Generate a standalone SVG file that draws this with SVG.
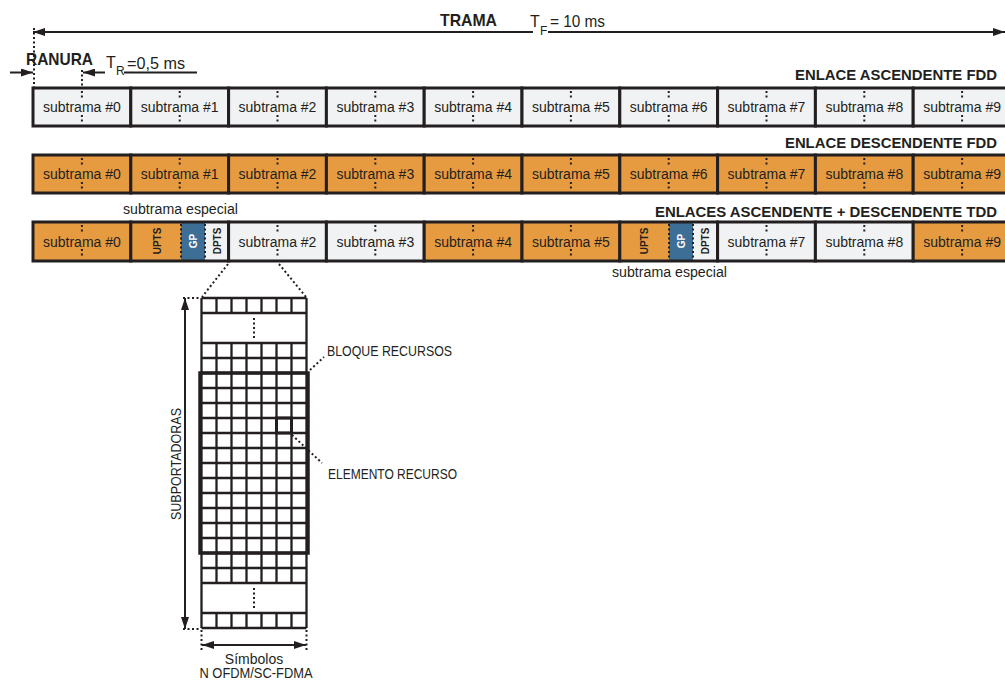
<svg xmlns="http://www.w3.org/2000/svg" xmlns:xlink="http://www.w3.org/1999/xlink" width="1005" height="680" viewBox="0 0 1005 680">
<style>
.lg{fill:#f1f2f4;stroke:#231f20;stroke-width:3}
.or{fill:#e69b41;stroke:#231f20;stroke-width:3}
.gp{fill:#3c6e96;stroke:none}
.ps{fill:#e69b41;stroke:none}
.pd{fill:#f1f2f4;stroke:none}
.dot{stroke:#231f20;stroke-width:2;stroke-dasharray:2 2.5;fill:none}
.ln{stroke:#231f20;stroke-width:2;fill:none}
.gl{stroke:#231f20;stroke-width:2.3;fill:none}
.st{font-family:"Liberation Sans",Arial,sans-serif;font-size:14px;fill:#231f20;text-anchor:middle}
.hd{font-family:"Liberation Sans",Arial,sans-serif;font-size:15px;font-weight:bold;fill:#231f20;text-anchor:end}
.bl{font-family:"Liberation Sans",Arial,sans-serif;font-size:17px;font-weight:bold;fill:#231f20}
.rg{font-family:"Liberation Sans",Arial,sans-serif;font-size:16px;fill:#231f20}
.sb{font-family:"Liberation Sans",Arial,sans-serif;font-size:12px;fill:#231f20}
.lb{font-family:"Liberation Sans",Arial,sans-serif;font-size:14px;fill:#231f20}
.vt{font-family:"Liberation Sans",Arial,sans-serif;font-size:10px;font-weight:bold;fill:#231f20;text-anchor:middle}
</style>
<defs>
<marker id="ah" viewBox="0 0 12 8" refX="12" refY="4" markerWidth="12" markerHeight="8" orient="auto-start-reverse" markerUnits="userSpaceOnUse"><path d="M0,0 L12,4 L0,8 z" fill="#231f20"/></marker>
<g id="mk"><line x1="0" y1="3" x2="0" y2="11" class="dot"/><line x1="0" y1="27" x2="0" y2="36" class="dot"/></g>
</defs>

<!-- Top annotations -->
<g id="trama">
<line x1="33" y1="32" x2="533" y2="32" class="ln" marker-start="url(#ah)"/>
<line x1="548" y1="32" x2="1005" y2="32" class="ln" marker-end="url(#ah)"/>
<text x="440" y="26" class="bl" textLength="57" lengthAdjust="spacingAndGlyphs">TRAMA</text>
<text x="530" y="27" class="rg">T</text>
<text x="540" y="35" class="sb">F</text>
<text x="550" y="27" class="rg" textLength="55" lengthAdjust="spacingAndGlyphs">= 10 ms</text>
<line x1="34" y1="28" x2="34" y2="87" class="dot"/>
</g>
<g id="ranura">
<text x="26" y="65" class="bl" textLength="67" lengthAdjust="spacingAndGlyphs">RANURA</text>
<line x1="10" y1="72.5" x2="33" y2="72.5" class="ln" marker-end="url(#ah)"/>
<line x1="105" y1="72.5" x2="83" y2="72.5" class="ln" marker-end="url(#ah)"/>
<line x1="124" y1="72.5" x2="197" y2="72.5" class="ln"/>
<line x1="82" y1="70" x2="82" y2="87" class="dot"/>
<text x="106" y="68" class="rg">T</text>
<text x="116" y="75" class="sb">R</text>
<text x="127" y="69" class="rg" textLength="58" lengthAdjust="spacingAndGlyphs">=0,5 ms</text>
</g>

<!-- Row 1: uplink FDD -->
<g id="row-ul-fdd">
<text x="997" y="80" class="hd" textLength="202" lengthAdjust="spacingAndGlyphs">ENLACE ASCENDENTE FDD</text>
<rect x="33" y="88" width="97.8" height="38" class="lg"/>
<rect x="130.8" y="88" width="97.8" height="38" class="lg"/>
<rect x="228.6" y="88" width="97.8" height="38" class="lg"/>
<rect x="326.4" y="88" width="97.8" height="38" class="lg"/>
<rect x="424.2" y="88" width="97.8" height="38" class="lg"/>
<rect x="522" y="88" width="97.8" height="38" class="lg"/>
<rect x="619.8" y="88" width="97.8" height="38" class="lg"/>
<rect x="717.6" y="88" width="97.8" height="38" class="lg"/>
<rect x="815.4" y="88" width="97.8" height="38" class="lg"/>
<rect x="913.2" y="88" width="97.8" height="38" class="lg"/>
<use xlink:href="#mk" x="81.9" y="88"/><use xlink:href="#mk" x="179.7" y="88"/><use xlink:href="#mk" x="277.5" y="88"/><use xlink:href="#mk" x="375.3" y="88"/><use xlink:href="#mk" x="473.1" y="88"/><use xlink:href="#mk" x="570.9" y="88"/><use xlink:href="#mk" x="668.7" y="88"/><use xlink:href="#mk" x="766.5" y="88"/><use xlink:href="#mk" x="864.3" y="88"/><use xlink:href="#mk" x="962.1" y="88"/>
<text x="81.9" y="112" class="st">subtrama #0</text>
<text x="179.7" y="112" class="st">subtrama #1</text>
<text x="277.5" y="112" class="st">subtrama #2</text>
<text x="375.3" y="112" class="st">subtrama #3</text>
<text x="473.1" y="112" class="st">subtrama #4</text>
<text x="570.9" y="112" class="st">subtrama #5</text>
<text x="668.7" y="112" class="st">subtrama #6</text>
<text x="766.5" y="112" class="st">subtrama #7</text>
<text x="864.3" y="112" class="st">subtrama #8</text>
<text x="962.1" y="112" class="st">subtrama #9</text>
</g>

<!-- Row 2: downlink FDD -->
<g id="row-dl-fdd">
<text x="997" y="148" class="hd" textLength="212" lengthAdjust="spacingAndGlyphs">ENLACE DESCENDENTE FDD</text>
<rect x="33" y="155" width="97.8" height="38" class="or"/>
<rect x="130.8" y="155" width="97.8" height="38" class="or"/>
<rect x="228.6" y="155" width="97.8" height="38" class="or"/>
<rect x="326.4" y="155" width="97.8" height="38" class="or"/>
<rect x="424.2" y="155" width="97.8" height="38" class="or"/>
<rect x="522" y="155" width="97.8" height="38" class="or"/>
<rect x="619.8" y="155" width="97.8" height="38" class="or"/>
<rect x="717.6" y="155" width="97.8" height="38" class="or"/>
<rect x="815.4" y="155" width="97.8" height="38" class="or"/>
<rect x="913.2" y="155" width="97.8" height="38" class="or"/>
<use xlink:href="#mk" x="81.9" y="155"/><use xlink:href="#mk" x="179.7" y="155"/><use xlink:href="#mk" x="277.5" y="155"/><use xlink:href="#mk" x="375.3" y="155"/><use xlink:href="#mk" x="473.1" y="155"/><use xlink:href="#mk" x="570.9" y="155"/><use xlink:href="#mk" x="668.7" y="155"/><use xlink:href="#mk" x="766.5" y="155"/><use xlink:href="#mk" x="864.3" y="155"/><use xlink:href="#mk" x="962.1" y="155"/>
<text x="81.9" y="179" class="st">subtrama #0</text>
<text x="179.7" y="179" class="st">subtrama #1</text>
<text x="277.5" y="179" class="st">subtrama #2</text>
<text x="375.3" y="179" class="st">subtrama #3</text>
<text x="473.1" y="179" class="st">subtrama #4</text>
<text x="570.9" y="179" class="st">subtrama #5</text>
<text x="668.7" y="179" class="st">subtrama #6</text>
<text x="766.5" y="179" class="st">subtrama #7</text>
<text x="864.3" y="179" class="st">subtrama #8</text>
<text x="962.1" y="179" class="st">subtrama #9</text>
</g>

<!-- Row 3: TDD -->
<g id="row-tdd">
<text x="997" y="217" class="hd" textLength="342" lengthAdjust="spacingAndGlyphs">ENLACES ASCENDENTE + DESCENDENTE TDD</text>
<text x="123" y="214" class="lb" textLength="115" lengthAdjust="spacingAndGlyphs">subtrama especial</text>
<text x="612" y="277" class="lb" textLength="115" lengthAdjust="spacingAndGlyphs">subtrama especial</text>
<rect x="33" y="222" width="97.8" height="39" class="or"/>
<g id="special1">
<rect x="130.8" y="222" width="50.2" height="39" class="ps"/>
<rect x="181" y="222" width="24" height="39" class="gp"/>
<rect x="205" y="222" width="23.6" height="39" class="pd"/>
<line x1="181" y1="224" x2="181" y2="259" class="dot"/>
<line x1="205" y1="224" x2="205" y2="259" class="dot"/>
<rect x="130.8" y="222" width="97.8" height="39" fill="none" stroke="#231f20" stroke-width="3"/>
<text transform="translate(160.5,241) rotate(-90)" class="vt">UPTS</text>
<text transform="translate(196.5,241) rotate(-90)" class="vt" style="fill:#ffffff">GP</text>
<text transform="translate(220.5,241) rotate(-90)" class="vt">DPTS</text>
</g>
<rect x="228.6" y="222" width="97.8" height="39" class="lg"/>
<rect x="326.4" y="222" width="97.8" height="39" class="lg"/>
<rect x="424.2" y="222" width="97.8" height="39" class="or"/>
<rect x="522" y="222" width="97.8" height="39" class="or"/>
<g id="special2">
<rect x="619.8" y="222" width="49.2" height="39" class="ps"/>
<rect x="669" y="222" width="24" height="39" class="gp"/>
<rect x="693" y="222" width="24.6" height="39" class="pd"/>
<line x1="669" y1="224" x2="669" y2="259" class="dot"/>
<line x1="693" y1="224" x2="693" y2="259" class="dot"/>
<rect x="619.8" y="222" width="97.8" height="39" fill="none" stroke="#231f20" stroke-width="3"/>
<text transform="translate(648,241) rotate(-90)" class="vt">UPTS</text>
<text transform="translate(684.5,241) rotate(-90)" class="vt" style="fill:#ffffff">GP</text>
<text transform="translate(708.5,241) rotate(-90)" class="vt">DPTS</text>
</g>
<rect x="717.6" y="222" width="97.8" height="39" class="lg"/>
<rect x="815.4" y="222" width="97.8" height="39" class="lg"/>
<rect x="913.2" y="222" width="97.8" height="39" class="or"/>
<use xlink:href="#mk" x="81.9" y="222"/><use xlink:href="#mk" x="277.5" y="222"/><use xlink:href="#mk" x="375.3" y="222"/><use xlink:href="#mk" x="473.1" y="222"/><use xlink:href="#mk" x="570.9" y="222"/><use xlink:href="#mk" x="766.5" y="222"/><use xlink:href="#mk" x="864.3" y="222"/><use xlink:href="#mk" x="962.1" y="222"/>
<text x="81.9" y="246.5" class="st">subtrama #0</text>
<text x="277.5" y="246.5" class="st">subtrama #2</text>
<text x="375.3" y="246.5" class="st">subtrama #3</text>
<text x="473.1" y="246.5" class="st">subtrama #4</text>
<text x="570.9" y="246.5" class="st">subtrama #5</text>
<text x="766.5" y="246.5" class="st">subtrama #7</text>
<text x="864.3" y="246.5" class="st">subtrama #8</text>
<text x="962.1" y="246.5" class="st">subtrama #9</text>
</g>

<!-- Resource grid -->
<g id="grid">
<path class="gl" d="M201.5,298V628M306.5,298V628
M216.5,298V313M216.5,343V583M216.5,613V628
M231.5,298V313M231.5,343V583M231.5,613V628
M246.5,298V313M246.5,343V583M246.5,613V628
M261.5,298V313M261.5,343V583M261.5,613V628
M276.5,298V313M276.5,343V583M276.5,613V628
M291.5,298V313M291.5,343V583M291.5,613V628
M201.5,298H306.5M201.5,313H306.5M201.5,343H306.5M201.5,358H306.5M201.5,373H306.5M201.5,388H306.5M201.5,403H306.5M201.5,418H306.5M201.5,433H306.5M201.5,448H306.5M201.5,463H306.5M201.5,478H306.5M201.5,493H306.5M201.5,508H306.5M201.5,523H306.5M201.5,538H306.5M201.5,553H306.5M201.5,568H306.5M201.5,583H306.5M201.5,613H306.5M201.5,628H306.5"/>
<line x1="254" y1="318" x2="254" y2="339" class="dot"/>
<line x1="254" y1="588" x2="254" y2="610" class="dot"/>
</g>
<g id="bloque-recursos">
<rect x="200" y="373" width="108" height="180" fill="none" stroke="#231f20" stroke-width="3.5"/>
<text x="327" y="356" class="lb" font-size="13" textLength="125" lengthAdjust="spacingAndGlyphs">BLOQUE RECURSOS</text>
</g>
<g id="elemento-recurso">
<rect x="276.5" y="418" width="15" height="15" fill="none" stroke="#231f20" stroke-width="3"/>
<text x="328" y="479" class="lb" textLength="129" lengthAdjust="spacingAndGlyphs">ELEMENTO RECURSO</text>
</g>
<g id="subportadoras">
<text transform="translate(180.5,464) rotate(-90)" class="lb" text-anchor="middle" textLength="112" lengthAdjust="spacingAndGlyphs">SUBPORTADORAS</text>
</g>
<g id="simbolos">
<text x="254" y="664" class="lb" text-anchor="middle">Símbolos</text>
<text x="256" y="678" class="lb" text-anchor="middle" textLength="113" lengthAdjust="spacingAndGlyphs">N OFDM/SC-FDMA</text>
</g>

<!-- Connectors -->
<g id="connectors">
<line x1="228" y1="264" x2="202" y2="297" class="dot"/>
<line x1="279" y1="264" x2="306" y2="297" class="dot"/>
<line x1="310" y1="370" x2="324" y2="357" class="dot"/>
<line x1="292" y1="435" x2="322" y2="463" class="dot"/>
<line x1="185" y1="298" x2="185" y2="629" class="ln" marker-start="url(#ah)" marker-end="url(#ah)"/>
<line x1="183" y1="298" x2="201" y2="298" class="dot"/>
<line x1="183" y1="629" x2="201" y2="629" class="dot"/>
<line x1="201.5" y1="630" x2="201.5" y2="650" class="dot"/>
<line x1="306.5" y1="630" x2="306.5" y2="650" class="dot"/>
<line x1="202" y1="645" x2="306" y2="645" class="ln" marker-start="url(#ah)" marker-end="url(#ah)"/>
</g>
</svg>
